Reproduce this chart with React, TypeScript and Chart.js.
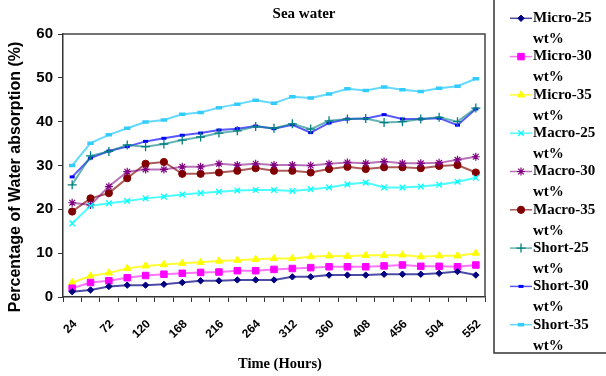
import { useEffect, useRef } from 'react';
import { Chart, registerables } from 'chart.js';
import { drawPoint } from 'chart.js/helpers';

Chart.register(...registerables);

const hours = ['24', '48', '72', '96', '120', '144', '168', '192', '216', '240', '264', '288', '312', '336', '360', '384', '408', '432', '456', '480', '504', '528', '552'];

const seriesNames = ['Micro-25', 'Micro-30', 'Micro-35', 'Macro-25', 'Macro-30', 'Macro-35', 'Short-25', 'Short-30', 'Short-35'];
const unitLabel = 'wt%';

const micro25 = [1.2, 1.6, 2.4, 2.7, 2.7, 2.9, 3.3, 3.7, 3.7, 3.9, 3.9, 3.9, 4.6, 4.6, 5.0, 5.0, 5.0, 5.2, 5.2, 5.2, 5.4, 5.8, 5.0];
const micro30 = [2.0, 3.3, 3.7, 4.4, 4.9, 5.2, 5.4, 5.6, 5.7, 6.0, 6.0, 6.3, 6.5, 6.7, 6.9, 6.9, 6.9, 7.1, 7.3, 7.0, 7.0, 6.9, 7.3];
const micro35 = [3.3, 4.8, 5.5, 6.5, 7.1, 7.4, 7.7, 7.9, 8.2, 8.4, 8.6, 8.8, 8.8, 9.2, 9.4, 9.3, 9.5, 9.5, 9.6, 9.2, 9.4, 9.4, 10.0];
const macro25 = [16.8, 20.8, 21.4, 21.9, 22.5, 22.9, 23.4, 23.7, 24.0, 24.3, 24.4, 24.4, 24.2, 24.6, 25.0, 25.7, 26.1, 25.0, 25.0, 25.2, 25.6, 26.3, 27.2];
const macro30 = [21.5, 21.0, 25.2, 28.6, 29.1, 29.1, 29.7, 29.7, 30.4, 30.1, 30.4, 30.1, 30.1, 30.0, 30.4, 30.7, 30.5, 30.9, 30.5, 30.5, 30.6, 31.3, 32.0];
const macro35 = [19.5, 22.5, 23.7, 27.1, 30.4, 30.8, 28.1, 28.1, 28.4, 28.8, 29.4, 28.8, 28.8, 28.4, 29.2, 29.7, 29.2, 29.6, 29.6, 29.4, 29.9, 30.1, 28.4];
const short25 = [25.6, 32.2, 33.2, 34.7, 34.3, 34.9, 35.8, 36.5, 37.4, 37.9, 38.9, 38.5, 39.5, 38.3, 40.2, 40.6, 40.7, 39.8, 40.0, 40.6, 41.0, 40.0, 43.1];
const short30 = [27.4, 31.7, 33.3, 34.3, 35.5, 36.2, 36.9, 37.4, 38.1, 38.4, 39.0, 38.4, 39.3, 37.5, 39.7, 40.6, 40.7, 41.6, 40.6, 40.6, 40.8, 39.2, 42.9];
const short35 = [30.0, 35.1, 37.0, 38.5, 39.9, 40.4, 41.7, 42.1, 43.2, 44.0, 44.9, 44.2, 45.7, 45.4, 46.3, 47.5, 47.1, 47.9, 47.3, 46.9, 47.6, 48.1, 49.8];

const seriesValues = [micro25, micro30, micro35, macro25, macro30, macro35, short25, short30, short35];

const yTicks = [0, 10, 20, 30, 40, 50, 60];

const chartTitle = 'Sea water';
const xTitle = 'Time (Hours)';
const yTitle = 'Percentage of Water absorption (%)';

const colors = ['#000080', '#FF00FF', '#FFFF00', '#00FFFF', '#800080', '#800000', '#008080', '#0000FF', '#33CCFF'];
const lineColors = ['rgba(0,0,128,0.7)', 'rgba(255,0,255,0.55)', 'rgba(255,255,0,0.8)', 'rgba(0,255,255,0.7)', 'rgba(128,0,128,0.55)', 'rgba(128,0,0,0.65)', 'rgba(0,128,128,0.6)', 'rgba(0,0,255,0.65)', 'rgba(51,204,255,0.75)'];
const pointStyles = ['rectRot', 'rect', 'triangle', 'crossRot', 'star', 'circle', 'cross', 'line', 'line'];
const pointRadii = [3.2, 4.6, 4.2, 4, 4, 3.6, 4.5, 2.5, 3.2];
const pointBorderWidths = [1, 1, 1, 1.3, 1.2, 1, 1.3, 3, 3.5];

const decorPlugin = {
  id: 'decor',
  afterDraw(chart: any) {
    const { ctx, chartArea: a } = chart;
    ctx.save();
    // plot border (top & right)
    ctx.strokeStyle = '#444';
    ctx.lineWidth = 1.5;
    ctx.beginPath();
    ctx.moveTo(a.left, a.top);
    ctx.lineTo(a.right, a.top);
    ctx.lineTo(a.right, a.bottom);
    ctx.stroke();

    ctx.fillStyle = '#000';
    ctx.textAlign = 'center';
    ctx.textBaseline = 'middle';
    ctx.font = 'bold 15px "Liberation Serif"';
    ctx.fillText(chartTitle, 304, 14);
    ctx.font = 'bold 14.5px "Liberation Serif"';
    ctx.fillText(xTitle, 280, 364);

    ctx.save();
    ctx.translate(16, 177);
    ctx.rotate(-Math.PI / 2);
    ctx.font = 'bold 16px "Liberation Sans"';
    ctx.fillText(yTitle, 0, 0);
    ctx.restore();

    // legend box
    ctx.strokeStyle = '#333';
    ctx.lineWidth = 1.5;
    ctx.beginPath();
    ctx.moveTo(494, 0);
    ctx.lineTo(494, 353);
    ctx.lineTo(606, 353);
    ctx.stroke();

    chart.data.datasets.forEach((ds: any, i: number) => {
      const y = 18.3 + i * 38.3;
      ctx.strokeStyle = ds.borderColor;
      ctx.lineWidth = 1.5;
      ctx.beginPath();
      ctx.moveTo(510, y);
      ctx.lineTo(532, y);
      ctx.stroke();
      ctx.fillStyle = ds.pointBackgroundColor;
      ctx.strokeStyle = ds.pointBorderColor;
      ctx.lineWidth = ds.pointBorderWidth;
      drawPoint(ctx, { pointStyle: ds.pointStyle, radius: ds.pointRadius, borderWidth: ds.pointBorderWidth, rotation: 0 } as any, 521, y);
      ctx.fillStyle = '#000';
      ctx.textAlign = 'left';
      ctx.textBaseline = 'middle';
      ctx.font = 'bold 15px "Liberation Serif"';
      ctx.fillText(ds.label, 533, y);
      ctx.fillText(unitLabel, 533, y + 21);
    });
    ctx.restore();
  },
};

export default function App() {
  const ref = useRef<HTMLCanvasElement | null>(null);
  useEffect(() => {
    if (!ref.current) return;
    const chart = new Chart(ref.current, {
      type: 'line',
      data: {
        labels: hours,
        datasets: seriesNames.map((name, i) => ({
          label: name,
          data: seriesValues[i],
          borderColor: lineColors[i],
          borderWidth: 2,
          pointStyle: pointStyles[i] as any,
          pointRadius: pointRadii[i],
          pointBackgroundColor: colors[i],
          pointBorderColor: colors[i],
          pointBorderWidth: pointBorderWidths[i],
          tension: 0,
          fill: false,
        })),
      },
      options: {
        responsive: false,
        animation: false,
        events: [],
        layout: { padding: { top: 34, right: 121, bottom: 0, left: 0 } },
        plugins: {
          legend: { display: false },
          title: { display: false },
          tooltip: { enabled: false },
        },
        scales: {
          x: {
            type: 'category',
            offset: true,
            afterFit: (s: any) => { s.height = 79; },
            grid: { offset: true, drawOnChartArea: false, drawTicks: true, tickLength: 5, color: '#333', lineWidth: 1 },
            border: { display: true, color: '#333', width: 1.5 },
            ticks: {
              autoSkip: false,
              minRotation: 45,
              maxRotation: 45,
              padding: 15,
              labelOffset: 3,
              color: '#000',
              font: { family: '"Liberation Sans"', size: 12, weight: 'bold' },
              callback: (_v: any, idx: number) => (idx % 2 === 0 ? hours[idx] : ''),
            },
          },
          y: {
            min: yTicks[0],
            max: yTicks[yTicks.length - 1],
            afterFit: (s: any) => { s.width = 63; },
            afterBuildTicks: (s: any) => { s.ticks = yTicks.map((v) => ({ value: v })); },
            grid: { drawOnChartArea: false, drawTicks: true, tickLength: 5, color: '#333', lineWidth: 1 },
            border: { display: true, color: '#333', width: 1.5 },
            ticks: {
              padding: 5,
              color: '#000',
              font: { family: '"Liberation Sans"', size: 15, weight: 'bold' },
            },
          },
        },
      },
      plugins: [decorPlugin],
    });
    return () => chart.destroy();
  }, []);
  return (
    <div style={{ position: 'fixed', left: 0, top: 0, width: 606, height: 376, background: '#fff' }}>
      <canvas ref={ref} width={606} height={376} style={{ width: 606, height: 376 }} />
    </div>
  );
}
